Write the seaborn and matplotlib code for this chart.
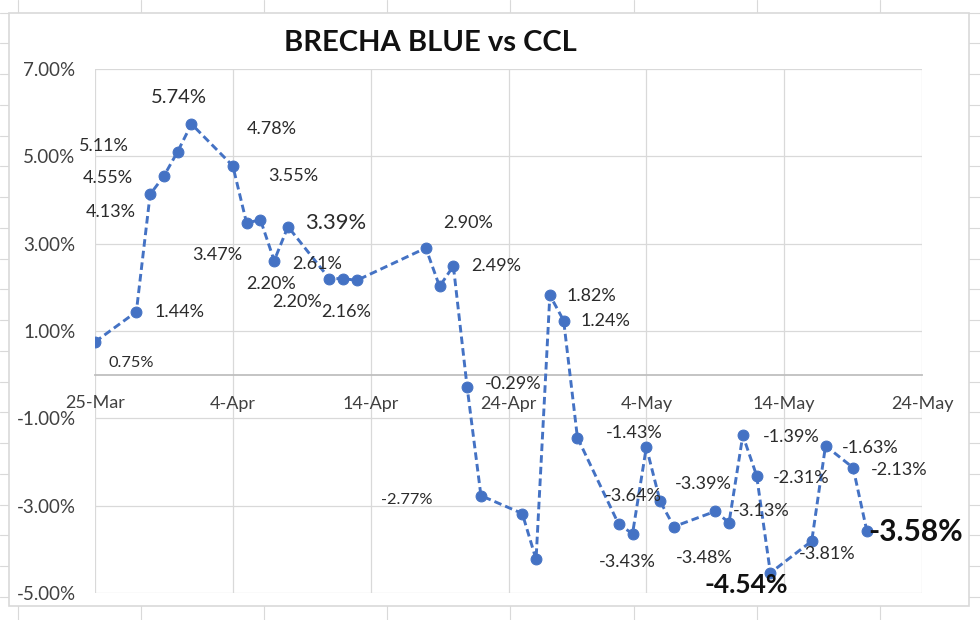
import pandas as pd
import matplotlib.pyplot as plt
import matplotlib.dates as mdates
from matplotlib.lines import Line2D
from matplotlib.patches import Rectangle
from matplotlib.ticker import FuncFormatter
import seaborn as sns

# =====================
# Data (brecha blue vs CCL, %)
# =====================
dates = [
    "2022-03-25", "2022-03-28", "2022-03-29", "2022-03-30", "2022-03-31",
    "2022-04-01", "2022-04-04", "2022-04-05", "2022-04-06", "2022-04-07",
    "2022-04-08", "2022-04-11", "2022-04-12", "2022-04-13", "2022-04-18",
    "2022-04-19", "2022-04-20", "2022-04-21", "2022-04-22", "2022-04-25",
    "2022-04-26", "2022-04-27", "2022-04-28", "2022-04-29", "2022-05-02",
    "2022-05-03", "2022-05-04", "2022-05-05", "2022-05-06", "2022-05-09",
    "2022-05-10", "2022-05-11", "2022-05-12", "2022-05-13", "2022-05-16",
    "2022-05-17", "2022-05-19", "2022-05-20",
]
brecha = [
    0.75, 1.44, 4.13, 4.55, 5.11, 5.74, 4.78, 3.47, 3.55, 2.61,
    3.39, 2.20, 2.20, 2.16, 2.90, 2.02, 2.49, -0.29, -2.77, -3.18,
    -4.23, 1.82, 1.24, -1.44, -3.43, -3.64, -1.66, -2.90, -3.48, -3.13,
    -3.39, -1.39, -2.31, -4.54, -3.81, -1.63, -2.13, -3.58,
]
point_labels = [
    "0.75%", "1.44%", "4.13%", "4.55%", "5.11%", "5.74%", "4.78%", "3.47%", "3.55%", "2.61%",
    "3.39%", "2.20%", "2.20%", "2.16%", "2.90%", None, "2.49%", "-0.29%", "-2.77%", None,
    None, "1.82%", "1.24%", "-1.43%", "-3.43%", "-3.64%", None, None, "-3.48%", "-3.13%",
    "-3.39%", "-1.39%", "-2.31%", "-4.54%", "-3.81%", "-1.63%", "-2.13%", "-3.58%",
]
y_ticks = [-5, -3, -1, 1, 3, 5, 7]
x_start, x_end = "2022-03-25", "2022-05-24"

# label offsets in pixels (dx right, dy down), as placed in the original
label_offsets = [
    (36, 21), (43, 0), (-39, 18), (-56, 2), (-74, -6), (-13, -27), (39, -37), (-29, 32), (33, -44), (43, 3),
    (48, -4), (-58, 5), (-46, 23), (-11, 32), (42, -25), None, (43, 0), (46, -3), (-74, 4), None,
    None, (42, 1), (42, 0), (57, -5), (9, 38), (1, -38), None, None, (30, 31), (46, 0),
    (-26, -39), (48, 2), (45, 2), (-24, 12), (15, 13), (45, 2), (46, 2), (49, 1),
]
label_style = {0: (11.8, "normal"), 18: (11.8, "normal"),
               5: (14.5, "normal"), 10: (15.8, "normal"),
               33: (19, "bold"), 37: (21.5, "bold")}

df = pd.DataFrame({"Fecha": pd.to_datetime(dates), "Brecha": brecha})

sns.set_style("white")
plt.rcParams["font.family"] = ["Lato", "DejaVu Sans"]

blue = "#4472C4"
grid_c = "#d9d9d9"

fig = plt.figure(figsize=(9.8, 6.2), dpi=100)

# spreadsheet background lines + chart area border
for k in range(21):
    y = 1 - (12.5 + 30.75 * k) / 620
    fig.add_artist(Line2D([0, 8 / 980], [y, y], color=grid_c, lw=0.8))
    fig.add_artist(Line2D([969 / 980, 1], [y, y], color=grid_c, lw=0.8))
for k in range(8):
    x = (18 + 123.1 * k) / 980
    fig.add_artist(Line2D([x, x], [1, 1 - 12 / 620], color=grid_c, lw=0.8))
    fig.add_artist(Line2D([x, x], [0, 14 / 620], color=grid_c, lw=0.8))
fig.add_artist(Rectangle((9 / 980, 14 / 620), 960 / 980, 593 / 620,
                         fill=False, ec=grid_c, lw=1.2, transform=fig.transFigure))

ax = fig.add_axes([95 / 980, 27 / 620, 827 / 980, 524 / 620])

sns.lineplot(data=df, x="Fecha", y="Brecha", ax=ax, color=blue, lw=2.1,
             linestyle=(0, (2.6, 1.4)), marker="o", markersize=7.8,
             markeredgecolor=blue, markerfacecolor=blue, zorder=3)

# data labels
for i, lab in enumerate(point_labels):
    if lab is None:
        continue
    dx, dy = label_offsets[i]
    size, weight = label_style.get(i, (13, "normal"))
    color = "#111111" if weight == "bold" else "#2b2b2b"
    ax.annotate(lab, (df["Fecha"][i], brecha[i]), xytext=(dx, -dy),
                textcoords="offset pixels", ha="center", va="center",
                fontsize=size, fontweight=weight, color=color, zorder=4)

# axes
ax.set_xlim(pd.Timestamp(x_start), pd.Timestamp(x_end))
ax.set_ylim(-5, 7)
ax.set_xticks(pd.date_range(x_start, x_end, freq="10D"))
ax.xaxis.set_major_formatter(mdates.DateFormatter("%-d-%b"))
ax.set_yticks(y_ticks)
ax.yaxis.set_major_formatter(FuncFormatter(lambda v, p: f"{v:.2f}%"))
ax.grid(True, color=grid_c, lw=0.9)
ax.set_axisbelow(True)
for s in ["top", "right", "left"]:
    ax.spines[s].set_visible(False)
ax.spines["bottom"].set_position(("data", 0))
ax.spines["bottom"].set_color("#bfbfbf")
ax.spines["bottom"].set_linewidth(1.3)
ax.tick_params(axis="x", length=0, pad=15, labelsize=13, labelcolor="#404040")
ax.tick_params(axis="y", length=0, pad=14, labelsize=13.5, labelcolor="#404040")
ax.set_xlabel("")
ax.set_ylabel("")

fig.text(430 / 980, 1 - 43 / 620, "BRECHA BLUE vs CCL", ha="center", va="center",
         fontsize=21, fontweight="bold", color="#111111")

fig.savefig("out.png", dpi=100)
